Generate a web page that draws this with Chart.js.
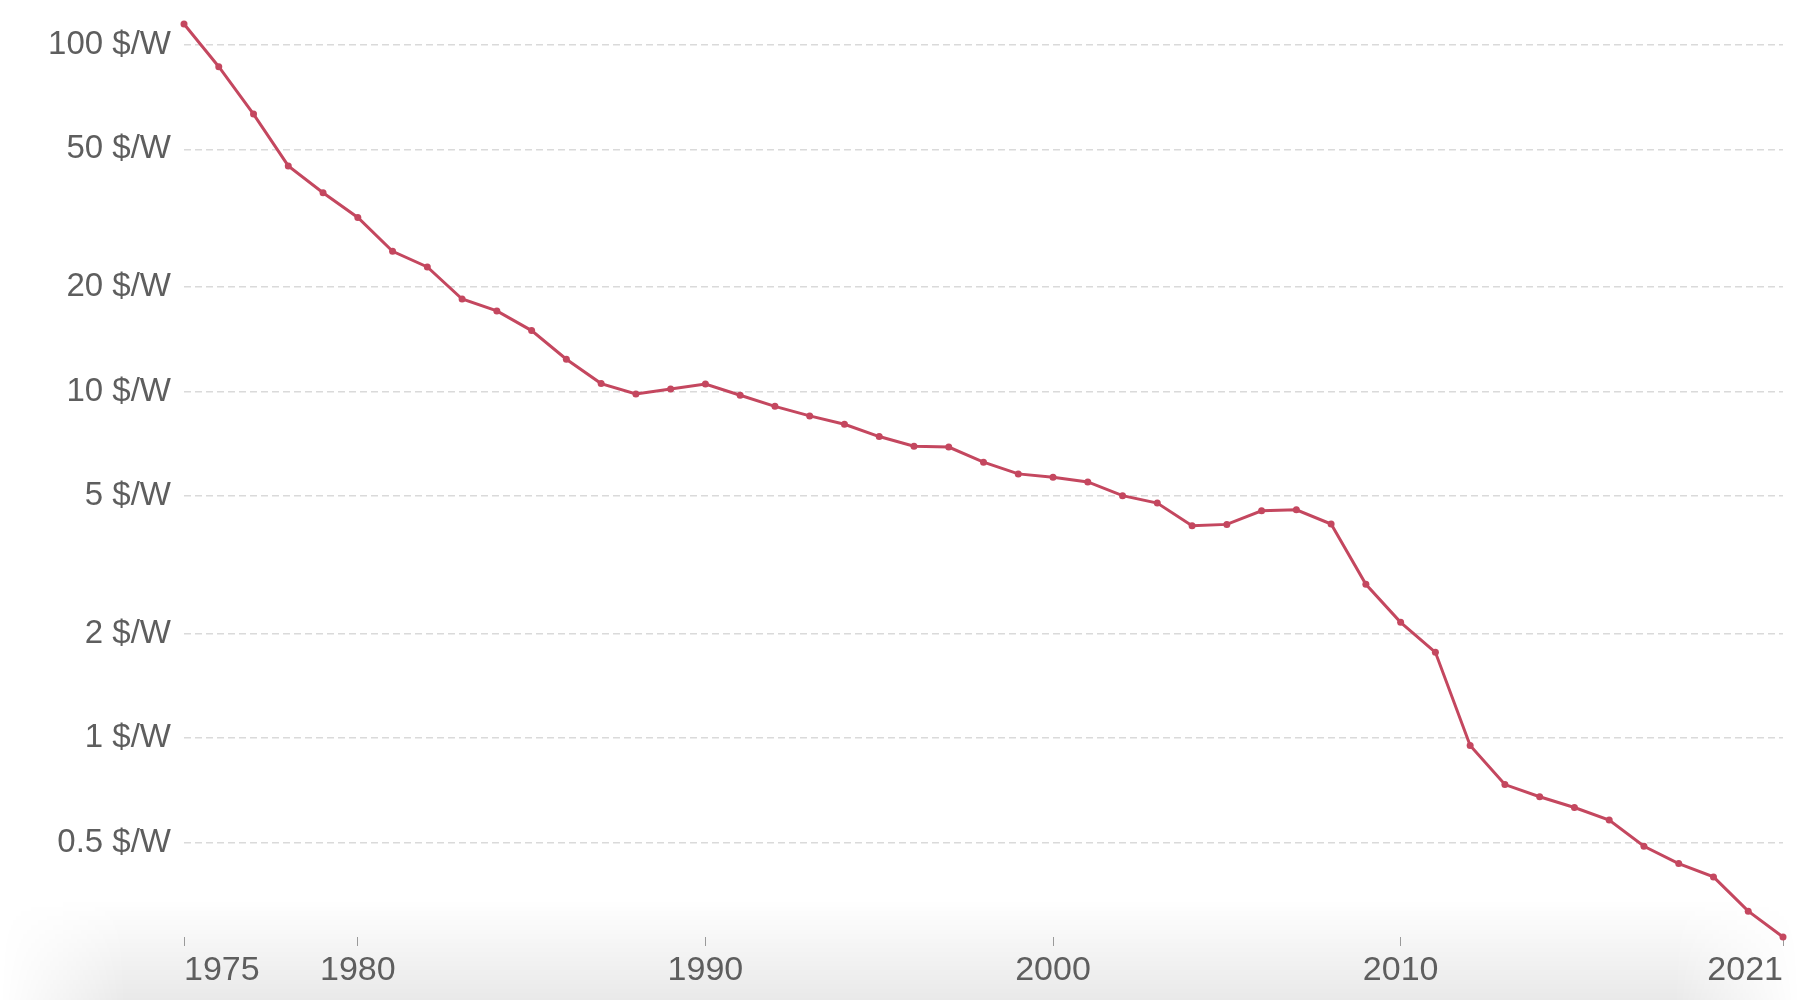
<!DOCTYPE html>
<html>
<head>
<meta charset="utf-8">
<script src="https://cdn.jsdelivr.net/npm/chart.js@4.4.1/dist/chart.umd.min.js"></script>
<style>
  html, body { margin: 0; padding: 0; background: #fff; }
  #wrap { position: relative; width: 1800px; height: 1000px; overflow: hidden; }
  #shade {
    position: absolute; left: 0; bottom: 0; width: 1800px; height: 100px; z-index: 0;
    background: linear-gradient(to bottom, rgba(0,0,0,0), rgba(0,0,0,0.085));
    -webkit-mask-image: linear-gradient(to right, transparent 0%, #000 7%, #000 93%, transparent 100%);
    mask-image: linear-gradient(to right, transparent 0%, #000 7%, #000 93%, transparent 100%);
  }
  #priceChart { position: absolute; left: 0; top: 0; z-index: 1; }
</style>
</head>
<body>
<div id="wrap">
  <div id="shade"></div>
  <canvas id="priceChart" width="1800" height="1000"></canvas>
</div>
<script>
const years = [
  1975, 1976, 1977, 1978, 1979, 1980, 1981, 1982, 1983, 1984,
  1985, 1986, 1987, 1988, 1989, 1990, 1991, 1992, 1993, 1994,
  1995, 1996, 1997, 1998, 1999, 2000, 2001, 2002, 2003, 2004,
  2005, 2006, 2007, 2008, 2009, 2010, 2011, 2012, 2013, 2014,
  2015, 2016, 2017, 2018, 2019, 2020, 2021
];

// module price, $ per watt
const prices = [
  115.0, 86.6, 63.2, 44.8, 37.5, 31.8, 25.4, 22.9, 18.5, 17.1,
  15.0, 12.4, 10.55, 9.85, 10.18, 10.52, 9.76, 9.07, 8.51, 8.05,
  7.42, 6.96, 6.92, 6.26, 5.79, 5.66, 5.49, 5.01, 4.77, 4.10,
  4.14, 4.53, 4.56, 4.15, 2.78, 2.16, 1.77, 0.953, 0.735, 0.678,
  0.631, 0.581, 0.488, 0.435, 0.398, 0.317, 0.267
];

const xTicks = [1975, 1980, 1990, 2000, 2010, 2021];
const yTicks = [0.5, 1, 2, 5, 10, 20, 50, 100];

const textColor = "#5e5e5e";
const lineColor = "#c4475f";
const fontFamily = "'Liberation Sans', Arial, sans-serif";

const points = years.map((y, i) => ({ x: y, y: prices[i] }));

const priceChart = new Chart(document.getElementById("priceChart"), {
  type: "line",
  data: {
    datasets: [
      {
        label: "Solar PV module price",
        data: points,
        borderColor: lineColor,
        backgroundColor: lineColor,
        borderWidth: 3,
        pointRadius: 3.5,
        pointHoverRadius: 3.5,
        pointBorderWidth: 0,
        tension: 0,
        clip: false
      }
    ]
  },
  options: {
    responsive: false,
    animation: false,
    layout: { padding: { top: 24, right: 17, bottom: 0, left: 0 } },
    plugins: {
      legend: { display: false },
      tooltip: { enabled: false }
    },
    scales: {
      x: {
        type: "linear",
        min: years[0],
        max: years[years.length - 1],
        afterBuildTicks: (s) => { s.ticks = xTicks.map(v => ({ value: v })); },
        afterFit: (s) => { s.height = 63; },
        border: { display: false },
        grid: {
          drawOnChartArea: false,
          drawTicks: true,
          tickLength: 9,
          tickColor: "#9a9a9a",
          tickWidth: 1
        },
        ticks: {
          align: "inner",
          padding: 4,
          maxRotation: 0,
          color: textColor,
          font: { family: fontFamily, size: 34 },
          callback: (v) => String(v)
        }
      },
      y: {
        type: "logarithmic",
        min: Math.min(...prices),
        max: Math.max(...prices),
        afterBuildTicks: (s) => { s.ticks = yTicks.map(v => ({ value: v })); },
        afterFit: (s) => {
          s.width = 184;
          s.paddingTop = 0;
          s.paddingBottom = 0;
        },
        border: { display: false, dash: [7, 4] },
        grid: {
          drawTicks: false,
          color: "#dadada",
          lineWidth: 1.6
        },
        ticks: {
          padding: 13,
          color: textColor,
          font: { family: fontFamily, size: 33 },
          callback: (v) => v + " $/W"
        }
      }
    }
  }
});
</script>
</body>
</html>
